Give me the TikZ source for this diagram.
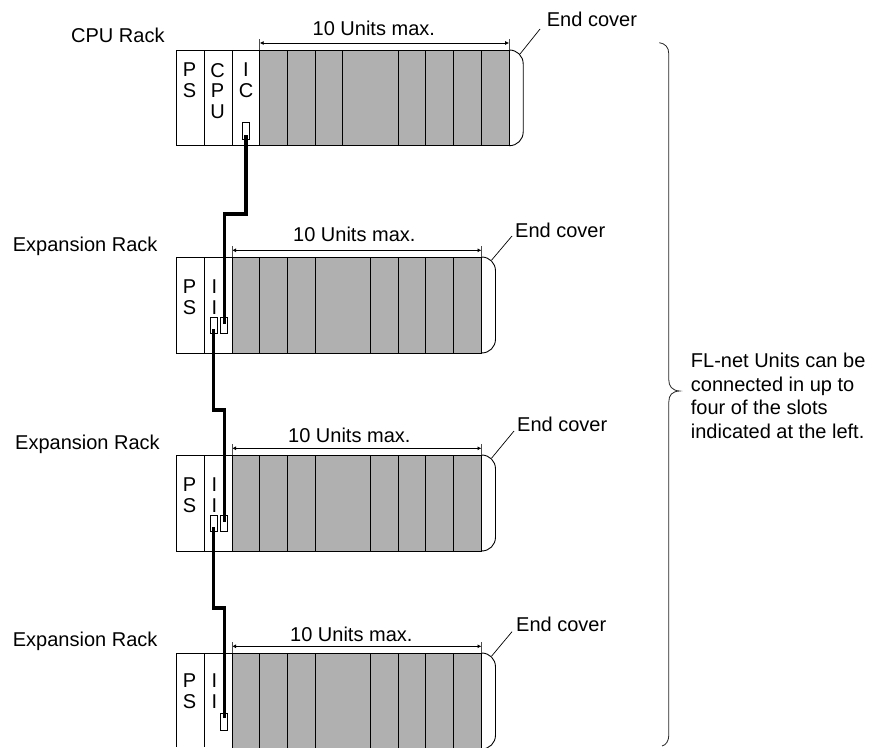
\documentclass[tikz,border=0pt]{standalone}
\usepackage{fontspec}
\setmainfont{Liberation Sans}
\usetikzlibrary{arrows.meta}
\definecolor{slotgray}{gray}{0.69}
\tikzset{
  x=1pt,y=-1pt,
  lbl/.style={font=\fontsize{20}{24}\selectfont,inner sep=0pt,anchor=base west},
  slotlbl/.style={font=\fontsize{20}{20.5}\selectfont,inner sep=0pt,align=center,anchor=north},
  rackline/.style={draw=black,line width=0.9pt},
  dim/.style={draw=black,line width=0.8pt,{Latex[length=4pt,width=4pt]}-{Latex[length=4pt,width=4pt]}},
  tick/.style={draw=black!70,line width=0.9pt},
  leader/.style={draw=black,line width=0.7pt},
  cable/.style={draw=black,line width=3.2pt,line join=miter},
  port/.style={draw=black,fill=white,line width=0.6pt,minimum width=7pt,minimum height=16.5pt,inner sep=0pt},
  notebrace/.style={draw=black!85,line width=0.8pt}
}
% #1 left of gray, #2 top, #3 bottom
\newcommand{\grayslots}[3]{%
  \fill[slotgray] (#1,#2) rectangle (#1+249.5,#3);
  \foreach \d in {0,27.7,55.4,83,138.5,166.2,193.9,221.6,249.5}
    \draw[rackline] (#1+\d,#2) -- (#1+\d,#3);
  \draw[rackline] (#1,#2) -- (#1+249.5,#2);
  \draw[rackline] (#1+249.5,#2) .. controls (#1+257.5,#2) and (#1+263.5,#2+6) .. (#1+263.5,#2+14)
    -- (#1+263.5,#3-14) .. controls (#1+263.5,#3-6) and (#1+257.5,#3) .. (#1+249.5,#3);
}
\begin{document}
\begin{tikzpicture}
\useasboundingbox (0,0) rectangle (869,747);
\fill[white] (0,0) rectangle (869,747);

% Rack 1
\grayslots{259.7}{50}{145.7}
\draw[rackline] (176.3,50) -- (259.7,50) (176.3,145.7) -- (509.2,145.7);
\foreach \x in {176.3,204,232} \draw[rackline] (\x,50) -- (\x,145.7);
\node[slotlbl] (ps1) at (189.5,63) {P\\S};
\node[slotlbl] (cpu1) at (217.5,63) {C\\P\\U};
\node[slotlbl] (ic1) at (246,63) {I\\C};

% Rack 2
\grayslots{232}{257}{353}
\draw[rackline] (176.3,257) -- (232,257) (176.3,353) -- (481.5,353);
\foreach \x in {176.3,204.3} \draw[rackline] (\x,257) -- (\x,353);
\node[slotlbl] (ps2) at (189.5,280) {P\\S};
\node[slotlbl] (ii2) at (214.3,280) {I\\I};

% Rack 3
\grayslots{232}{455}{551}
\draw[rackline] (176.3,455) -- (232,455) (176.3,551) -- (481.5,551);
\foreach \x in {176.3,204.3} \draw[rackline] (\x,455) -- (\x,551);
\node[slotlbl] (ps3) at (189.5,478) {P\\S};
\node[slotlbl] (ii3) at (214.3,478) {I\\I};

% Rack 4 (runs off the page)
\grayslots{232}{653}{749}
\draw[rackline] (176.3,653) -- (232,653);
\foreach \x in {176.3,204.3} \draw[rackline] (\x,653) -- (\x,747);
\node[slotlbl] (ps4) at (189.5,674) {P\\S};
\node[slotlbl] (ii4) at (214.3,674) {I\\I};

% Ports
\node[port] (p1) at (246,131) {};
\node[port] (p2r) at (224.2,325.5) {};
\node[port] (p2l) at (213.5,325.5) {};
\node[port] (p3r) at (224.2,523.5) {};
\node[port] (p3l) at (213.5,523.5) {};
\node[port] (p4) at (224.2,721.7) {};

% Cables
\coordinate (c1a) at (246,135);
\coordinate (c1b) at (224.2,324);
\coordinate (c2a) at (213.5,329);
\coordinate (c2b) at (224.2,522);
\coordinate (c3a) at (213.5,527);
\coordinate (c3b) at (224.2,718);
\draw[cable] (c1a) -- (246,214) -- (224.2,214) -- (c1b);
\draw[cable] (c2a) -- (213.5,410) -- (224.2,410) -- (c2b);
\draw[cable] (c3a) -- (213.5,608) -- (224.2,608) -- (c3b);

% Dimension lines
\coordinate (d1a) at (259.7,43); \coordinate (d1b) at (509.2,43);
\coordinate (d2a) at (232,250.3); \coordinate (d2b) at (481.5,250.3);
\coordinate (d3a) at (232,448.3); \coordinate (d3b) at (481.5,448.3);
\coordinate (d4a) at (232,646.3); \coordinate (d4b) at (481.5,646.3);
\draw[dim] (d1a) -- (d1b);
\draw[dim] (d2a) -- (d2b);
\draw[dim] (d3a) -- (d3b);
\draw[dim] (d4a) -- (d4b);
\draw[tick] (259.7,39) -- (259.7,50) (509.2,39) -- (509.2,50);
\draw[tick] (232,246) -- (232,257) (481.5,246) -- (481.5,257);
\draw[tick] (232,444) -- (232,455) (481.5,444) -- (481.5,455);
\draw[tick] (232,642) -- (232,653) (481.5,642) -- (481.5,653);
\node[lbl] (u1) at (312.5,35) {10 Units max.};
\node[lbl] (u2) at (293,241.5) {10 Units max.};
\node[lbl] (u3) at (288,442) {10 Units max.};
\node[lbl] (u4) at (290,641) {10 Units max.};

% Rack names
\node[lbl] (r1) at (71,42.7) {CPU Rack};
\node[lbl] (r2) at (12.7,251) {Expansion Rack};
\node[lbl] (r3) at (15,449) {Expansion Rack};
\node[lbl] (r4) at (12.7,646) {Expansion Rack};

% End covers
\node[lbl] (e1) at (546.7,26.7) {End cover};
\node[lbl] (e2) at (515,237.7) {End cover};
\node[lbl] (e3) at (517,431) {End cover};
\node[lbl] (e4) at (516,631.7) {End cover};
\coordinate (l1a) at (520,54);   \coordinate (l1b) at (540,29);
\coordinate (l2a) at (491.7,260);\coordinate (l2b) at (512,236);
\coordinate (l3a) at (491.7,458);\coordinate (l3b) at (514,431);
\coordinate (l4a) at (491.7,656);\coordinate (l4b) at (512,631.7);
\draw[leader] (l1a) -- (l1b);
\draw[leader] (l2a) -- (l2b);
\draw[leader] (l3a) -- (l3b);
\draw[leader] (l4a) -- (l4b);

% Brace
\coordinate (bt) at (659.3,42.7); \coordinate (bb) at (662,746);
\coordinate (btip) at (679.5,391);
\draw[notebrace] (bt) .. controls (665,43.5) and (668.8,47) .. (668.8,54) -- (668.8,380)
  .. controls (668.8,386) and (672,390.5) .. (btip)
  .. controls (672,391.5) and (668.8,395) .. (668.8,402) -- (668.8,735)
  .. controls (668.8,741) and (666,745) .. (bb);

% Note
\node[lbl,anchor=north west,align=left,font=\fontsize{20}{23.7}\selectfont] (note) at (690.7,352.7)
  {FL-net Units can be\\connected in up to\\four of the slots\\indicated at the left.};
\end{tikzpicture}
\end{document}
